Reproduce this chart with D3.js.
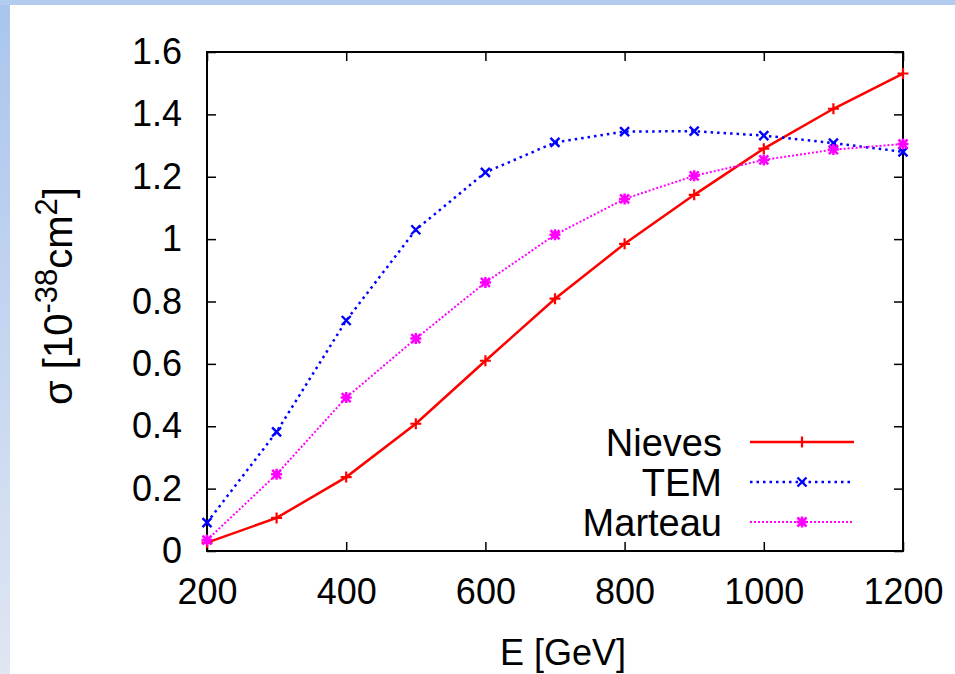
<!DOCTYPE html>
<html>
<head>
<meta charset="utf-8">
<script src="https://cdn.jsdelivr.net/npm/d3@7"></script>
<style>
  body { margin: 0; background: #fff; }
  svg text { font-family: "Liberation Sans", Arial, sans-serif; fill: #000; }
</style>
</head>
<body>
<div id="graph"></div>
<script>
// energies in GeV
var energies = [200, 300, 400, 500, 600, 700, 800, 900, 1000, 1100, 1200];
// cross sections in 10^-38 cm^2
var nieves  = [0.027, 0.106, 0.237, 0.408, 0.610, 0.809, 0.985, 1.142, 1.290, 1.418, 1.531];
var tem     = [0.091, 0.382, 0.739, 1.030, 1.214, 1.310, 1.345, 1.346, 1.332, 1.308, 1.280];
var marteau = [0.035, 0.246, 0.492, 0.681, 0.861, 1.014, 1.129, 1.203, 1.254, 1.287, 1.305];

var xTicks = [200, 400, 600, 800, 1000, 1200];
var yTicks = [0, 0.2, 0.4, 0.6, 0.8, 1, 1.2, 1.4, 1.6];

function drawChart() {
  var w = 955, h = 674;
  var pLeft = 207, pRight = 903, pTop = 52, pBottom = 551;

  var svg = d3.select("#graph").append("svg").attr("width", w).attr("height", h);

  // slide background strips
  var defs = svg.append("defs");
  var grad = defs.append("linearGradient").attr("id", "side").attr("x1", 0).attr("y1", 0).attr("x2", 0).attr("y2", 1);
  grad.append("stop").attr("offset", "0%").attr("stop-color", "#a9c5ee");
  grad.append("stop").attr("offset", "100%").attr("stop-color", "#e0e6f2");
  svg.append("rect").attr("x", 0).attr("y", 0).attr("width", w).attr("height", h).attr("fill", "#fff");
  svg.append("rect").attr("x", 0).attr("y", 0).attr("width", 10).attr("height", h).attr("fill", "url(#side)");
  svg.append("rect").attr("x", 0).attr("y", 0).attr("width", w).attr("height", 5).attr("fill", "#b1ccef");

  var x = d3.scaleLinear().domain([200, 1200]).range([pLeft, pRight]);
  var y = d3.scaleLinear().domain([0, 1.6]).range([pBottom, pTop]);

  function styleAxis(g) {
    g.select(".domain").remove();
    g.selectAll(".tick line").attr("stroke", "#000").attr("stroke-width", 1.5);
    g.selectAll("text").style("font-size", "36px").attr("fill", "#000");
  }

  svg.append("g").attr("transform", "translate(0," + pBottom + ")")
    .call(d3.axisBottom(x).tickValues(xTicks).tickSize(-9).tickPadding(27).tickFormat(d3.format("d")))
    .call(styleAxis);
  svg.append("g").attr("transform", "translate(0," + pTop + ")")
    .call(d3.axisTop(x).tickValues(xTicks).tickSize(-9).tickFormat(""))
    .call(styleAxis);
  svg.append("g").attr("transform", "translate(" + pLeft + ",0)")
    .call(d3.axisLeft(y).tickValues(yTicks).tickSize(-9).tickPadding(25).tickFormat(function (d) { return String(+d.toFixed(1)); }))
    .call(styleAxis);
  svg.append("g").attr("transform", "translate(" + pRight + ",0)")
    .call(d3.axisRight(y).tickValues(yTicks).tickSize(-9).tickFormat(""))
    .call(styleAxis);

  svg.append("rect")
    .attr("x", pLeft).attr("y", pTop).attr("width", pRight - pLeft).attr("height", pBottom - pTop)
    .attr("fill", "none").attr("stroke", "#000").attr("stroke-width", 2);

  // markers
  function plus(s) { return "M" + (-s) + ",0H" + s + "M0," + (-s) + "V" + s; }
  function cross(s) { return "M" + (-s) + "," + (-s) + "L" + s + "," + s + "M" + (-s) + "," + s + "L" + s + "," + (-s); }
  function star(s) { return plus(s + 1) + cross(s); }

  var series = [
    { name: "Nieves", values: nieves, color: "#ff0000", dash: null, width: 2.5, marker: plus(5.5), mw: 2.2 },
    { name: "TEM", values: tem, color: "#0000ff", dash: "2.5,4", width: 2.5, marker: cross(4.5), mw: 2.4 },
    { name: "Marteau", values: marteau, color: "#ff00ff", dash: "2,2", width: 2, marker: star(4.5), mw: 2.5 }
  ];

  var line = d3.line().x(function (d) { return x(d[0]); }).y(function (d) { return y(d[1]); });

  series.forEach(function (s) {
    var pts = energies.map(function (e, i) { return [e, s.values[i]]; });
    svg.append("path").datum(pts)
      .attr("d", line)
      .attr("fill", "none")
      .attr("stroke", s.color)
      .attr("stroke-width", s.width)
      .attr("stroke-dasharray", s.dash);
    svg.selectAll(null).data(pts).enter().append("path")
      .attr("d", s.marker)
      .attr("transform", function (d) { return "translate(" + x(d[0]) + "," + y(d[1]) + ")"; })
      .attr("fill", "none")
      .attr("stroke", s.color)
      .attr("stroke-width", s.mw);
  });

  // legend
  var legend = svg.append("g");
  series.forEach(function (s, i) {
    var ly = 442 + i * 40;
    legend.append("text").attr("x", 722).attr("y", ly + 14).attr("text-anchor", "end")
      .style("font-size", "38px").text(s.name);
    legend.append("line").attr("x1", 750).attr("x2", 854).attr("y1", ly).attr("y2", ly)
      .attr("stroke", s.color).attr("stroke-width", s.width).attr("stroke-dasharray", s.dash);
    legend.append("path").attr("d", s.marker).attr("transform", "translate(802," + ly + ")")
      .attr("fill", "none").attr("stroke", s.color).attr("stroke-width", s.mw);
  });

  // axis titles
  svg.append("text").attr("x", 563).attr("y", 665).attr("text-anchor", "middle")
    .style("font-size", "36px").text("E [GeV]");

  var yl = svg.append("text").attr("transform", "translate(72,296) rotate(-90)")
    .attr("text-anchor", "middle").style("font-size", "40px");
  yl.append("tspan").text("σ [10");
  yl.append("tspan").attr("dy", "-15").style("font-size", "31px").text("-38");
  yl.append("tspan").attr("dy", "15").text("cm");
  yl.append("tspan").attr("dy", "-15").style("font-size", "31px").text("2");
  yl.append("tspan").attr("dy", "15").text("]");
}

drawChart();
</script>
</body>
</html>
